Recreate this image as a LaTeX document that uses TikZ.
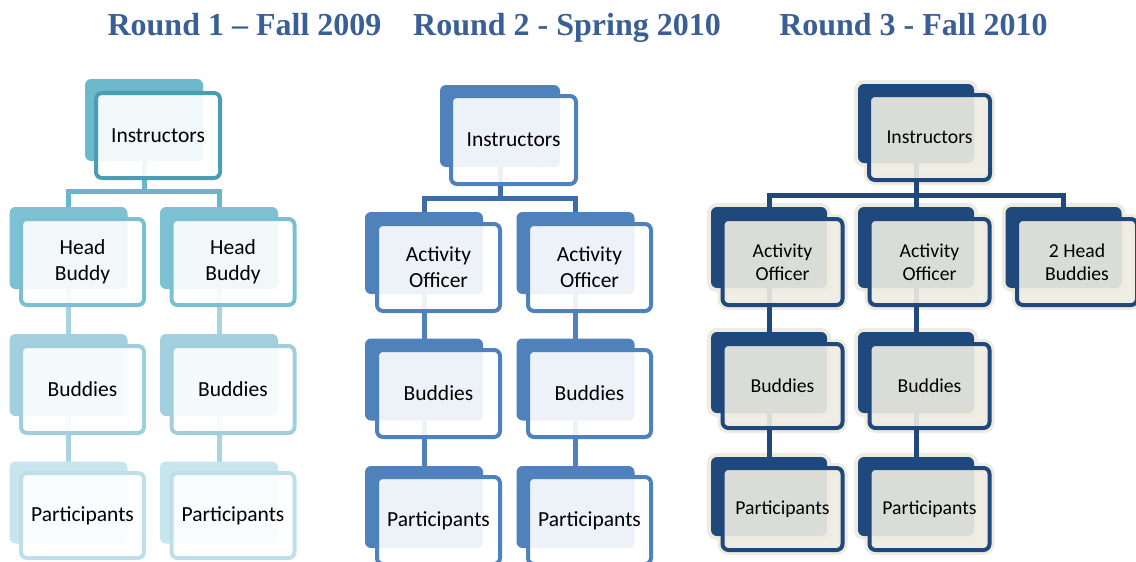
\documentclass[tikz,border=0pt]{standalone}
\usepackage{fontspec}
\setmainfont{Liberation Serif}
\newfontfamily\boxfont{Carlito}
\pgfdeclarelayer{conn}
\pgfdeclarelayer{halo}
\pgfsetlayers{halo,conn,main}
\definecolor{aLzero}{HTML}{6CB9CB}
\definecolor{aLzerob}{HTML}{4B9DB4}
\definecolor{aLone}{HTML}{7DC1D2}
\definecolor{aLoneb}{HTML}{7AC0D2}
\definecolor{aLtwo}{HTML}{A3D0DE}
\definecolor{aLtwob}{HTML}{A1CEDC}
\definecolor{aLthree}{HTML}{C7E5EC}
\definecolor{aLthreeb}{HTML}{BFDFE8}
\definecolor{aCone}{HTML}{6AB6C9}
\definecolor{aCtwo}{HTML}{A8D3E0}
\definecolor{bblue}{HTML}{4F81BD}
\definecolor{bblueD}{HTML}{3F6CA5}
\definecolor{cnavy}{HTML}{1F497D}
\definecolor{ccream}{HTML}{EEECE1}
\definecolor{ttl}{HTML}{3A5F96}
\tikzset{
  ttlstyle/.style={anchor=base, text=ttl, font=\bfseries\fontsize{32}{36}\selectfont, inner sep=0pt},
  backbox/.style={rounded corners=6pt, inner sep=0pt, outer sep=0pt, fill=#1},
  frontbox/.style={rounded corners=6pt, inner sep=0pt, outer sep=0pt, draw=#1, line width=4pt,
     fill=white, fill opacity=0.9, text opacity=1, align=center, text=black,
     font=\boxfont\fontsize{21.5}{26}\selectfont},
  frontc/.style={frontbox=cnavy, fill=ccream, font=\boxfont\fontsize{19.7}{23}\selectfont},
  halob/.style={rounded corners=6pt, inner sep=0pt, outer sep=0pt, draw=ccream, line width=8pt, fill=ccream},
  halof/.style={rounded corners=6pt, inner sep=0pt, outer sep=0pt, draw=ccream, line width=10pt},
  conline/.style={draw=#1, line width=5pt},
}
\begin{document}
\begin{tikzpicture}[x=1pt,y=-1pt]
\useasboundingbox (0,0) rectangle (1136,562);
\clip (0,0) rectangle (1136,562);
% titles
\node[ttlstyle] (t1) at (244.5,35) {Round 1 – Fall 2009};
\node[ttlstyle] (t2) at (567,35) {Round 2 - Spring 2010};
\node[ttlstyle] (t3) at (913.5,35) {Round 3 - Fall 2010};

% ================= Column 1 =================
\node[backbox=aLzero, minimum width=118pt, minimum height=82pt] (a0-b) at (144,120) {};
\node[frontbox=aLzerob, minimum width=124pt, minimum height=85pt] (a0) at (158,135.5) {Instructors};
\node[backbox=aLone, minimum width=118pt, minimum height=82pt] (a1l-b) at (68.5,248) {};
\node[frontbox=aLoneb, minimum width=123pt, minimum height=86pt] (a1l) at (82.5,262) {Head\\Buddy};
\node[backbox=aLone, minimum width=118pt, minimum height=82pt] (a1r-b) at (219,248) {};
\node[frontbox=aLoneb, minimum width=123pt, minimum height=86pt] (a1r) at (233,262) {Head\\Buddy};
\node[backbox=aLtwo, minimum width=118pt, minimum height=82pt] (a2l-b) at (68.5,375) {};
\node[frontbox=aLtwob, minimum width=123pt, minimum height=87pt] (a2l) at (82.5,389.5) {Buddies};
\node[backbox=aLtwo, minimum width=118pt, minimum height=82pt] (a2r-b) at (219,375) {};
\node[frontbox=aLtwob, minimum width=123pt, minimum height=87pt] (a2r) at (233,389.5) {Buddies};
\node[backbox=aLthree, minimum width=118pt, minimum height=82pt] (a3l-b) at (68.5,502.5) {};
\node[frontbox=aLthreeb, minimum width=123pt, minimum height=85pt] (a3l) at (82.5,515.5) {Participants};
\node[backbox=aLthree, minimum width=118pt, minimum height=82pt] (a3r-b) at (219,502.5) {};
\node[frontbox=aLthreeb, minimum width=123pt, minimum height=85pt] (a3r) at (233,515.5) {Participants};
\coordinate (abar) at (0,191);
\begin{pgfonlayer}{conn}
\draw[conline=aCone] (a0-b.south) -- (a0-b.south |- abar);
\draw[conline=aCone] (a1l-b.north) |- (a0-b.south |- abar) -| (a1r-b.north);
\draw[conline=aCtwo] (a1l-b.south) -- (a2l-b.north);
\draw[conline=aCtwo] (a1r-b.south) -- (a2r-b.north);
\draw[conline=aCtwo] (a2l-b.south) -- (a3l-b.north);
\draw[conline=aCtwo] (a2r-b.south) -- (a3r-b.north);
\end{pgfonlayer}

% ================= Column 2 =================
\node[backbox=bblue, minimum width=120pt, minimum height=82pt] (b0-b) at (500,126) {};
\node[frontbox=bblue, minimum width=125pt, minimum height=88pt] (b0) at (513.5,140) {Instructors};
\node[backbox=bblue, minimum width=118pt, minimum height=82pt] (b1l-b) at (424,253) {};
\node[frontbox=bblue, minimum width=123pt, minimum height=87pt] (b1l) at (438.5,267.5) {Activity\\Officer};
\node[backbox=bblue, minimum width=118pt, minimum height=82pt] (b1r-b) at (575.5,253) {};
\node[frontbox=bblue, minimum width=123pt, minimum height=87pt] (b1r) at (589.5,267.5) {Activity\\Officer};
\node[backbox=bblue, minimum width=118pt, minimum height=82pt] (b2l-b) at (424,379.5) {};
\node[frontbox=bblue, minimum width=123pt, minimum height=87pt] (b2l) at (438.5,393.5) {Buddies};
\node[backbox=bblue, minimum width=118pt, minimum height=82pt] (b2r-b) at (575.5,379.5) {};
\node[frontbox=bblue, minimum width=123pt, minimum height=87pt] (b2r) at (589.5,393.5) {Buddies};
\node[backbox=bblue, minimum width=118pt, minimum height=82pt] (b3l-b) at (424,507) {};
\node[frontbox=bblue, minimum width=123pt, minimum height=87pt] (b3l) at (438.5,520.5) {Participants};
\node[backbox=bblue, minimum width=118pt, minimum height=82pt] (b3r-b) at (575.5,507) {};
\node[frontbox=bblue, minimum width=123pt, minimum height=87pt] (b3r) at (589.5,520.5) {Participants};
\coordinate (bbar) at (0,198);
\begin{pgfonlayer}{conn}
\draw[conline=bblueD] (b0-b.south) -- (b0-b.south |- bbar);
\draw[conline=bblueD] (b1l-b.north) |- (b0-b.south |- bbar) -| (b1r-b.north);
\draw[conline=bblue] (b1l-b.south) -- (b2l-b.north);
\draw[conline=bblue] (b1r-b.south) -- (b2r-b.north);
\draw[conline=bblue] (b2l-b.south) -- (b3l-b.north);
\draw[conline=bblue] (b2r-b.south) -- (b3r-b.north);
\end{pgfonlayer}

% ================= Column 3 =================
\begin{pgfonlayer}{halo}
\node[halob, minimum width=116pt, minimum height=79pt] (h0-b) at (916,123.5) {};
\node[halof, minimum width=121pt, minimum height=85pt] (h0) at (929.5,137.5) {};
\foreach \cx/\fx/\nm in {769/782.5/l, 916/929.5/m, 1063.5/1077/r}{
  \node[halob, minimum width=116pt, minimum height=81pt] (h1\nm-b) at (\cx,247.5) {};
  \node[halof, minimum width=120pt, minimum height=86pt] (h1\nm) at (\fx,262) {};
}
\foreach \cx/\fx/\nm in {769/782.5/l, 916/929.5/m}{
  \node[halob, minimum width=116pt, minimum height=81pt] (h2\nm-b) at (\cx,372.5) {};
  \node[halof, minimum width=120pt, minimum height=84pt] (h2\nm) at (\fx,386) {};
  \node[halob, minimum width=116pt, minimum height=79pt] (h3\nm-b) at (\cx,496.5) {};
  \node[halof, minimum width=120pt, minimum height=82pt] (h3\nm) at (\fx,509) {};
}
\end{pgfonlayer}
\node[backbox=cnavy, minimum width=116pt, minimum height=79pt] (c0-b) at (916,123.5) {};
\node[frontc, minimum width=121pt, minimum height=85pt] (c0) at (929.5,137.5) {Instructors};
\node[backbox=cnavy, minimum width=116pt, minimum height=81pt] (c1l-b) at (769,247.5) {};
\node[frontc, minimum width=120pt, minimum height=86pt] (c1l) at (782.5,262) {Activity\\Officer};
\node[backbox=cnavy, minimum width=116pt, minimum height=81pt] (c1m-b) at (916,247.5) {};
\node[frontc, minimum width=120pt, minimum height=86pt] (c1m) at (929.5,262) {Activity\\Officer};
\node[backbox=cnavy, minimum width=116pt, minimum height=81pt] (c1r-b) at (1063.5,247.5) {};
\node[frontc, minimum width=120pt, minimum height=86pt] (c1r) at (1077,262) {2 Head\\Buddies};
\node[backbox=cnavy, minimum width=116pt, minimum height=81pt] (c2l-b) at (769,372.5) {};
\node[frontc, minimum width=120pt, minimum height=84pt] (c2l) at (782.5,386) {Buddies};
\node[backbox=cnavy, minimum width=116pt, minimum height=81pt] (c2m-b) at (916,372.5) {};
\node[frontc, minimum width=120pt, minimum height=84pt] (c2m) at (929.5,386) {Buddies};
\node[backbox=cnavy, minimum width=116pt, minimum height=79pt] (c3l-b) at (769,496.5) {};
\node[frontc, minimum width=120pt, minimum height=82pt] (c3l) at (782.5,509) {Participants};
\node[backbox=cnavy, minimum width=116pt, minimum height=79pt] (c3m-b) at (916,496.5) {};
\node[frontc, minimum width=120pt, minimum height=82pt] (c3m) at (929.5,509) {Participants};
\coordinate (cbar) at (0,195);
\begin{pgfonlayer}{conn}
\draw[conline=cnavy] (c0-b.south) -- (c0-b.south |- cbar);
\draw[conline=cnavy] (c1l-b.north) |- (c0-b.south |- cbar) -| (c1r-b.north);
\draw[conline=cnavy] (c0-b.south |- cbar) -- (c1m-b.north);
\draw[conline=cnavy] (c1l-b.south) -- (c2l-b.north);
\draw[conline=cnavy] (c1m-b.south) -- (c2m-b.north);
\draw[conline=cnavy] (c2l-b.south) -- (c3l-b.north);
\draw[conline=cnavy] (c2m-b.south) -- (c3m-b.north);
\end{pgfonlayer}
\end{tikzpicture}
\end{document}
